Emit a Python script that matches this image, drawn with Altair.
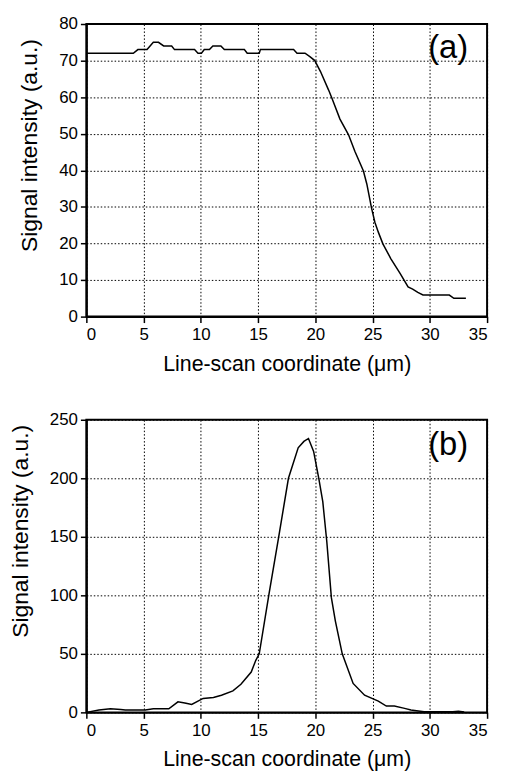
import altair as alt
import pandas as pd

# Panel (a)
xa = [0, 4.1, 4.5, 5.3, 5.85, 6.3, 6.75, 7.45, 7.7, 9.45, 9.75, 10.05, 10.3, 10.75, 11.05, 11.75,
      12.05, 13.8, 14.05, 15.1, 15.2, 18.1, 18.4, 19.1, 19.55, 19.95, 20.45, 21.15, 21.45, 22.15,
      22.9, 23.45, 24.2, 24.5, 24.9, 25.2, 25.5, 25.9, 26.6, 27.4, 28.1, 28.5, 28.95, 29.4, 31.7,
      32.1, 33.15]
ya = [72, 72, 73, 73, 75, 75, 74, 74, 73, 73, 72, 72, 73, 73, 74, 74, 73, 73, 72, 72, 73, 73, 72,
      72, 71, 70, 67, 62, 59.7, 54, 49.7, 45.2, 39.8, 36.2, 29.8, 25.8, 23.1, 19.9, 15.8, 11.8,
      8.1, 7.5, 6.6, 5.9, 5.9, 5.0, 5.0]

# Panel (b)
xb = [0, 1.1, 2.1, 3.0, 3.4, 5.15, 5.85, 7.2, 8.0, 8.6, 9.2, 10.2, 11.1, 11.8, 12.8, 13.5, 14.4,
      14.8, 15.1, 15.95, 16.8, 17.65, 18.5, 19.0, 19.4, 19.85, 20.3, 20.65, 21.0, 21.4, 21.75,
      22.35, 23.3, 24.3, 25.5, 26.2, 26.9, 27.8, 28.35, 29.5, 30.5, 32.0, 32.5, 33.0]
yb = [0, 2, 3.1, 2.5, 2, 2, 3.1, 3.1, 9, 8, 6.8, 11.9, 12.7, 14.7, 18.4, 24, 34.5, 44.5, 50, 101,
      150, 200, 226, 231.5, 234, 223, 200, 180, 146, 98, 78, 50, 24.7, 14.7, 9.6, 5.4, 5.4, 3.4,
      2, 0.6, 0.5, 0.5, 1, 0.3]

x_ticks = [0, 5, 10, 15, 20, 25, 30, 35]
ya_ticks = [0, 10, 20, 30, 40, 50, 60, 70, 80]
yb_ticks = [0, 50, 100, 150, 200, 250]

panel_labels = ["(a)", "(b)"]
label_x = [31.6, 31.6]
label_y = [73.4, 228]

X_TITLE = "Line-scan coordinate (\u03bcm)"
Y_TITLE = "Signal intensity (a.u.)"
FONT = "Liberation Sans"

W, H = 404, 295


def panel(xs, ys, yticks, ymax, lab, lx, ly, title_y):
    df = pd.DataFrame({"x": xs, "y": ys})
    xscale = alt.Scale(domain=[0, 35], nice=False, zero=False)
    yscale = alt.Scale(domain=[0, ymax], nice=False)
    xenc = alt.X("x:Q", title=X_TITLE, scale=xscale,
                 axis=alt.Axis(values=x_ticks, format="d", labelOverlap=False))
    yenc = alt.Y("y:Q", title=Y_TITLE, scale=yscale,
                 axis=alt.Axis(values=yticks, format="d", labelOverlap=False,
                               titleY=title_y))
    line = alt.Chart(df).mark_line(color="black", strokeWidth=1.5, interpolate="linear").encode(
        x=xenc, y=yenc, order="x:Q")
    tdf = pd.DataFrame({"x": [lx], "y": [ly], "t": [lab]})
    txt = alt.Chart(tdf).mark_text(font=FONT, fontSize=33, color="black",
                                   align="center", baseline="middle").encode(
        x=xenc, y=yenc, text="t:N")
    return alt.layer(line, txt).properties(width=W, height=H)


top = panel(xa, ya, ya_ticks, 80, panel_labels[0], label_x[0], label_y[0], 122)
bot = panel(xb, yb, yb_ticks, 250, panel_labels[1], label_x[1], label_y[1], 112)

chart = alt.vconcat(top, bot, spacing=34).properties(
    padding={"left": 0, "top": 3, "right": 8, "bottom": 0},
    background="white"
).configure_view(
    stroke="black", strokeWidth=2
).configure_axis(
    domainColor="black", domainWidth=2,
    tickColor="black", tickWidth=1.5, tickSize=6,
    labelFont=FONT, labelFontSize=17, labelColor="black", labelPadding=3,
    titleFont=FONT, titleColor="black", titleFontWeight="normal",
    grid=True, gridColor="black", gridWidth=1, gridDash=[1.5, 2], gridOpacity=1,
).configure_axisX(
    titlePadding=11, labelPadding=4, titleFontSize=21.5
).configure_axisY(
    titlePadding=17, titleFontSize=23
)

chart.save("out.html", embed_options={"renderer": "svg", "actions": False})
